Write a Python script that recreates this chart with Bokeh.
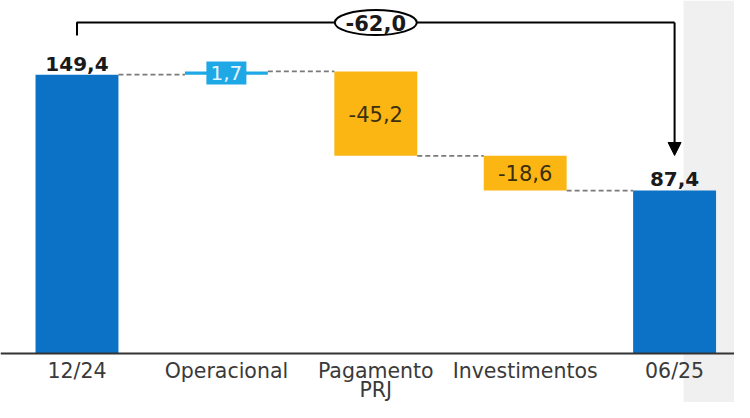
from bokeh.plotting import figure
from bokeh.models import Range1d, FixedTicker, BoxAnnotation, Arrow, NormalHead, ColumnDataSource
from bokeh.core.properties import value
from bokeh.embed import file_html
from bokeh.resources import INLINE

# ---- data ----
categories = ["12/24", "Operacional", "Pagamento\nPRJ", "Investimentos", "06/25"]
values = [149.4, 1.7, -45.2, -18.6, 87.4]
labels = ["149,4", "1,7", "-45,2", "-18,6", "87,4"]
kinds = ["total", "pos", "neg", "neg", "total"]
total_change_label = "-62,0"

colors = {"total": "#0b72c5", "pos": "#1ea8e6", "neg": "#fbb614"}

# waterfall geometry from data
bottoms, tops = [], []
running = 0.0
for v, k in zip(values, kinds):
    if k == "total":
        bottoms.append(0.0)
        tops.append(v)
        running = v
    else:
        start = running
        running = running + v
        bottoms.append(min(start, running))
        tops.append(max(start, running))
xs = list(range(len(categories)))
BAR_W = 0.555

p = figure(width=734, height=402, output_backend="svg", toolbar_location=None,
           x_range=Range1d(-0.512, 4.401), y_range=Range1d(-26.2, 189.1),
           min_border=0, min_border_left=0, min_border_right=0,
           min_border_top=0, min_border_bottom=0)
p.outline_line_color = None
p.grid.visible = False
p.yaxis.visible = False
p.background_fill_color = "white"
p.border_fill_color = "white"

# grey strip on the right
p.add_layout(BoxAnnotation(left=4.06, fill_color="#f0f0f0", fill_alpha=1.0,
                           line_color=None, level="underlay"))

src = ColumnDataSource(dict(x=xs, bottom=bottoms, top=tops,
                            color=[colors[k] for k in kinds]))
p.vbar(x="x", bottom="bottom", top="top", width=BAR_W, fill_color="color",
       line_color=None, source=src)

# dashed connectors
levels = []
running = 0.0
for v, k in zip(values, kinds):
    running = v if k == "total" else running + v
    levels.append(running)
p.segment(x0=[i + BAR_W / 2 for i in xs[:-1]], x1=[i + 1 - BAR_W / 2 for i in xs[:-1]],
          y0=levels[:-1], y1=levels[:-1], line_color="#7a7a7a", line_width=1.8,
          line_dash="5 3")

# axis
ax = p.xaxis[0]
ax.fixed_location = 0
ax.ticker = FixedTicker(ticks=xs)
ax.major_label_overrides = {i: c for i, c in zip(xs, categories)}
ax.major_tick_out = 0
ax.major_tick_in = 0
ax.minor_tick_out = 0
ax.minor_tick_in = 0
ax.axis_line_color = "#333333"
ax.axis_line_width = 2
ax.major_label_standoff = 5
ax.major_label_text_font = "DejaVu Sans"
ax.major_label_text_font_size = "20.5px"
ax.major_label_text_line_height = 0.8
ax.major_label_text_color = "#3a3a3a"

# total labels (bold, above bars)
tot_idx = [i for i, k in enumerate(kinds) if k == "total"]
p.text(x=[xs[i] for i in tot_idx], y=[tops[i] for i in tot_idx],
       text=[labels[i] for i in tot_idx], text_align="center",
       text_baseline="alphabetic", y_offset=-11,
       text_font=value("DejaVu Sans"), text_font_style="bold",
       text_font_size="20px", text_color="#1a1a1a")

# negative labels inside bars
neg_idx = [i for i, k in enumerate(kinds) if k == "neg"]
p.text(x=[xs[i] for i in neg_idx], y=[(bottoms[i] + tops[i]) / 2 for i in neg_idx],
       text=[labels[i] for i in neg_idx], text_align="center", text_baseline="middle",
       text_font=value("DejaVu Sans"), text_font_size="21px", text_color="#3b2f10")

# positive label in a blue box
pos_idx = [i for i, k in enumerate(kinds) if k == "pos"]
p.rect(x=[xs[i] for i in pos_idx], y=[(bottoms[i] + tops[i]) / 2 for i in pos_idx],
       width=40, height=23, width_units="screen", height_units="screen",
       fill_color=colors["pos"], line_color=None)
p.text(x=[xs[i] for i in pos_idx], y=[(bottoms[i] + tops[i]) / 2 for i in pos_idx],
       text=[labels[i] for i in pos_idx], text_align="center", text_baseline="middle",
       text_font=value("DejaVu Sans"), text_font_size="20px", text_color="#e4f4fd")

# bracket with total change
BR_Y = 177.3
p.line(x=[xs[0], xs[0], xs[-1]], y=[values[0] + 20.9, BR_Y, BR_Y],
       line_color="black", line_width=2)
p.add_layout(Arrow(x_start=xs[-1], y_start=BR_Y, x_end=xs[-1], y_end=values[-1] + 18.7,
                   line_color="black", line_width=2,
                   end=NormalHead(size=13, fill_color="black", line_color="black")))
p.ellipse(x=[2], y=[BR_Y], width=82, height=25, width_units="screen",
          height_units="screen", fill_color="white", line_color="black", line_width=2)
p.text(x=[2], y=[BR_Y], text=[total_change_label], text_align="center",
       text_baseline="middle", text_font=value("DejaVu Sans"), text_font_style="bold",
       text_font_size="21px", text_color="#1a1a1a")

open("out.html", "w").write(file_html(p, INLINE))
